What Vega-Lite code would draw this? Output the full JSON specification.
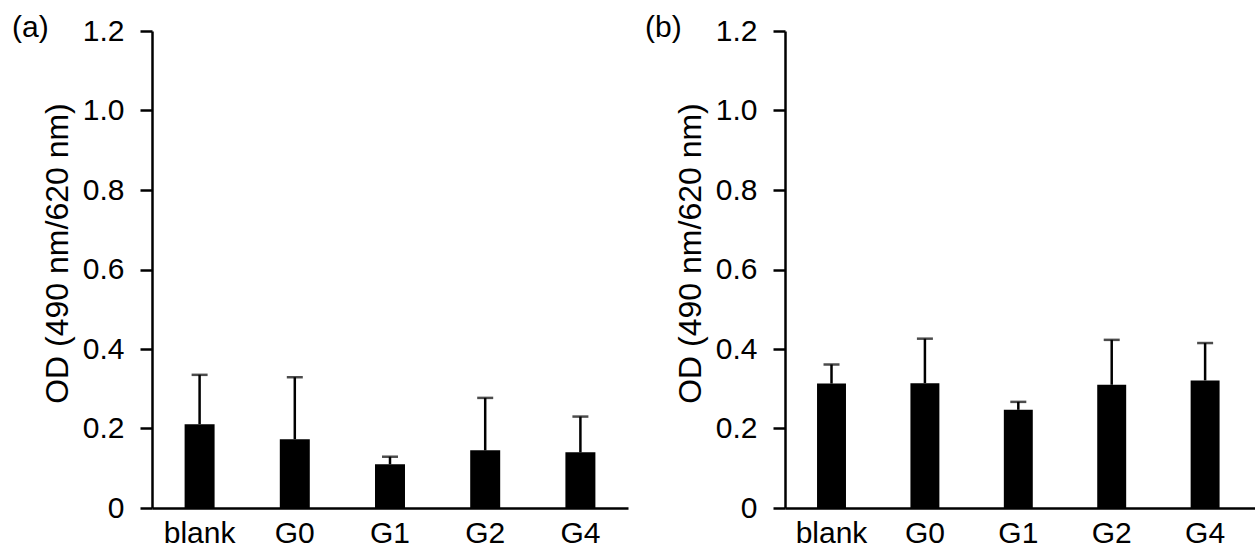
{
  "$schema": "https://vega.github.io/schema/vega-lite/v6.json",
  "background": "white",
  "padding": {"left": 12, "top": 13, "right": 0, "bottom": 0},
  "spacing": 17,
  "datasets": {
    "panelA": [
      {"group": "blank", "od": 0.211, "upper": 0.335},
      {"group": "G0", "od": 0.173, "upper": 0.329},
      {"group": "G1", "od": 0.110, "upper": 0.129},
      {"group": "G2", "od": 0.145, "upper": 0.277},
      {"group": "G4", "od": 0.140, "upper": 0.230}
    ],
    "panelB": [
      {"group": "blank", "od": 0.313, "upper": 0.361},
      {"group": "G0", "od": 0.314, "upper": 0.426},
      {"group": "G1", "od": 0.247, "upper": 0.267},
      {"group": "G2", "od": 0.310, "upper": 0.423},
      {"group": "G4", "od": 0.321, "upper": 0.415}
    ]
  },
  "config": {
    "view": {"stroke": null},
    "font": "Liberation Sans",
    "axis": {
      "domainColor": "black",
      "domainWidth": 2.5,
      "tickColor": "black",
      "tickWidth": 2.5,
      "labelColor": "black",
      "titleColor": "black",
      "labelFont": "Liberation Sans",
      "titleFont": "Liberation Sans",
      "grid": false
    },
    "title": {
      "font": "Liberation Sans",
      "fontSize": 30,
      "fontWeight": "normal",
      "color": "black",
      "anchor": "start",
      "frame": "group",
      "offset": 0,
      "dx": -140,
      "dy": 31
    }
  },
  "hconcat": [
    {
      "data": {"name": "panelA"},
      "width": 476,
      "height": 477,
      "title": {"text": "(a)"},
      "encoding": {
        "x": {
          "field": "group",
          "type": "nominal",
          "sort": null,
          "scale": {"paddingInner": 0.685, "paddingOuter": 0.3425},
          "axis": {"title": null, "labelAngle": 0, "ticks": false, "labelPadding": 10, "labelFontSize": 30}
        }
      },
      "layer": [
        {
          "mark": {"type": "bar", "color": "black"},
          "encoding": {
            "y": {
              "field": "od",
              "type": "quantitative",
              "scale": {"domain": [0, 1.2], "nice": false},
              "axis": {
                "title": "OD (490 nm/620 nm)",
                "titleFontSize": 32,
                "titleFontWeight": "normal",
                "titlePadding": 8,
                "titleY": 222,
                "values": [0, 0.2, 0.4, 0.6, 0.8, 1.0, 1.2],
                "labelExpr": "datum.value == 0 ? '0' : format(datum.value, '.1f')",
                "labelFontSize": 30,
                "tickSize": 12,
                "labelPadding": 16
              }
            }
          }
        },
        {
          "mark": {"type": "rule", "color": "black", "strokeWidth": 2.5},
          "encoding": {
            "y": {"field": "od", "type": "quantitative"},
            "y2": {"field": "upper"}
          }
        },
        {
          "mark": {"type": "tick", "color": "black", "size": 16, "thickness": 2.5},
          "encoding": {
            "y": {"field": "upper", "type": "quantitative"}
          }
        }
      ]
    },
    {
      "data": {"name": "panelB"},
      "width": 471,
      "height": 477,
      "title": {"text": "(b)"},
      "encoding": {
        "x": {
          "field": "group",
          "type": "nominal",
          "sort": null,
          "scale": {"paddingInner": 0.69, "paddingOuter": 0.3664, "align": 0.468},
          "axis": {"title": null, "labelAngle": 0, "ticks": false, "labelPadding": 10, "labelFontSize": 30}
        }
      },
      "layer": [
        {
          "mark": {"type": "bar", "color": "black"},
          "encoding": {
            "y": {
              "field": "od",
              "type": "quantitative",
              "scale": {"domain": [0, 1.2], "nice": false},
              "axis": {
                "title": "OD (490 nm/620 nm)",
                "titleFontSize": 32,
                "titleFontWeight": "normal",
                "titlePadding": 8,
                "titleY": 222,
                "values": [0, 0.2, 0.4, 0.6, 0.8, 1.0, 1.2],
                "labelExpr": "datum.value == 0 ? '0' : format(datum.value, '.1f')",
                "labelFontSize": 30,
                "tickSize": 12,
                "labelPadding": 16
              }
            }
          }
        },
        {
          "mark": {"type": "rule", "color": "black", "strokeWidth": 2.5},
          "encoding": {
            "y": {"field": "od", "type": "quantitative"},
            "y2": {"field": "upper"}
          }
        },
        {
          "mark": {"type": "tick", "color": "black", "size": 16, "thickness": 2.5},
          "encoding": {
            "y": {"field": "upper", "type": "quantitative"}
          }
        }
      ]
    }
  ]
}
